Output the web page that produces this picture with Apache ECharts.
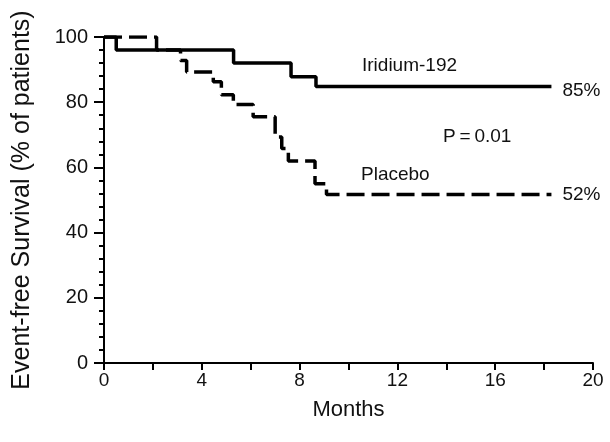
<!DOCTYPE html>
<html>
<head>
<meta charset="utf-8">
<script src="https://cdn.jsdelivr.net/npm/echarts@6/dist/echarts.min.js"></script>
<style>
  html, body { margin: 0; padding: 0; background: #fff; }
  #chart { width: 610px; height: 442px; }
</style>
</head>
<body>
<div id="chart"></div>
<script>
// Kaplan-Meier steps (month, % event-free)
var iridiumMonths = [0, 0.5, 5.3, 7.65, 8.67, 18.3];
var iridiumSurvival = [100, 96, 92, 87.8, 84.8, 84.8];
var placeboMonths = [0, 2.15, 3.13, 3.38, 4.47, 4.8, 5.29, 6.1, 7.0, 7.27, 7.54, 8.63, 9.1, 18.3];
var placeboSurvival = [100, 96, 92.8, 89.3, 86.3, 82.3, 79.3, 75.5, 69.3, 65.8, 62.0, 55.0, 51.7, 51.7];
var xTicks = [0, 4, 8, 12, 16, 20];

function pairs(xs, ys) {
  return xs.map(function (x, i) { return [x, ys[i]]; });
}

var font = '"Liberation Sans", Arial, sans-serif';
var chart = echarts.init(document.getElementById('chart'), null, { renderer: 'canvas' });

function endLabel(dy) {
  return {
    show: true,
    color: '#111',
    fontFamily: font,
    fontSize: 19,
    distance: 11,
    offset: [0, dy],
    formatter: function (p) { return Math.round(p.value[1]) + '%'; }
  };
}

var option = {
  animation: false,
  backgroundColor: '#fff',
  grid: { left: 104, right: 17, top: 37, bottom: 79 },
  xAxis: {
    type: 'value',
    min: 0,
    max: 20,
    interval: 2,
    name: 'Months',
    nameLocation: 'middle',
    nameGap: 36,
    nameTextStyle: { color: '#111', fontFamily: font, fontSize: 22 },
    axisLine: { lineStyle: { color: '#000', width: 2 } },
    axisTick: { length: 7, lineStyle: { color: '#000', width: 2 } },
    axisLabel: {
      color: '#111', fontFamily: font, fontSize: 19, margin: 8,
      formatter: function (v) { return xTicks.indexOf(v) >= 0 ? String(v) : ''; }
    },
    splitLine: { show: false }
  },
  yAxis: {
    type: 'value',
    min: 0,
    max: 100,
    interval: 20,
    name: 'Event-free Survival (% of patients)',
    nameLocation: 'middle',
    nameGap: 69,
    nameTextStyle: { color: '#111', fontFamily: font, fontSize: 25 },
    axisLine: { show: true, lineStyle: { color: '#000', width: 2 } },
    axisTick: { show: true, length: 10, lineStyle: { color: '#000', width: 2 } },
    minorTick: { show: true, splitNumber: 5, length: 5, lineStyle: { color: '#000', width: 2 } },
    axisLabel: { color: '#111', fontFamily: font, fontSize: 20, margin: 16 },
    splitLine: { show: false }
  },
  series: [
    {
      name: 'Iridium-192',
      type: 'line',
      step: 'end',
      symbol: 'none',
      data: pairs(iridiumMonths, iridiumSurvival),
      lineStyle: { color: '#000', width: 3.5 },
      endLabel: endLabel(4)
    },
    {
      name: 'Placebo',
      type: 'line',
      step: 'end',
      symbol: 'none',
      data: pairs(placeboMonths, placeboSurvival),
      lineStyle: { color: '#000', width: 3.5, type: [18, 7] },
      endLabel: endLabel(0)
    }
  ],
  graphic: [
    { type: 'text', left: 362, top: 56, style: { text: 'Iridium-192', font: '19px ' + font, fill: '#111' } },
    { type: 'text', left: 443, top: 127, style: { text: 'P\u2009=\u20090.01', font: '19px ' + font, fill: '#111' } },
    { type: 'text', left: 361, top: 165, style: { text: 'Placebo', font: '19px ' + font, fill: '#111' } }
  ]
};

chart.setOption(option);
</script>
</body>
</html>
